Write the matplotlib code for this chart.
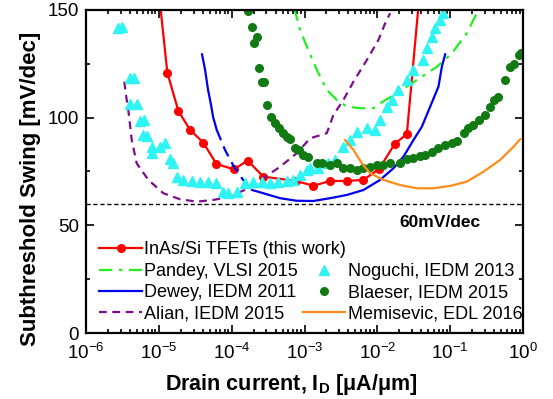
import matplotlib
matplotlib.use('Agg')
import matplotlib.pyplot as plt
import numpy as np

plt.rcParams['font.family'] = ['Liberation Sans', 'DejaVu Sans']
plt.rcParams['mathtext.fontset'] = 'custom'
plt.rcParams['mathtext.rm'] = 'Liberation Sans'
plt.rcParams['mathtext.it'] = 'Liberation Sans:italic'
plt.rcParams['mathtext.bf'] = 'Liberation Sans:bold'

# Data: log10 of drain current [uA/um] and swing [mV/dec]
# InAs/Si TFETs (this work)
inas_logI = [-4.99, -4.883, -4.732, -4.571, -4.389, -4.21, -3.967, -3.782,
             -3.565, -3.12, -2.878, -2.648, -2.419, -2.191, -1.975, -1.762,
             -1.595, -1.435]
inas_ss = [155, 120.9, 103.1, 94.3, 88.4, 78.5, 76.0, 80.1,
           72.6, 70.6, 68.4, 70.6, 70.6, 71.1, 76.2, 87.8,
           92.4, 152]

# Pandey, VLSI 2015
pandey_logI = [-3.143, -3.060, -2.968, -2.831, -2.694, -2.556, -2.419, -2.236,
               -2.053, -1.962, -1.732, -1.457, -1.179, -0.977, -0.771, -0.615,
               -0.588]
pandey_ss = [151, 140.7, 133.0, 122.2, 112.9, 108.2, 105.1, 104.4,
             104.4, 106.7, 111.3, 117.5, 123.7, 129.9, 139.2, 150.0,
             152.8]

# Noguchi, IEDM 2013
noguchi_logI = [-5.556, -5.510, -5.396, -5.341, -5.396, -5.304, -5.258, -5.203,
                -5.213, -5.158, -5.098, -5.098, -4.984, -4.915, -4.846, -4.801,
                -4.754, -4.663, -4.548, -4.434, -4.320, -4.218, -4.122, -4.045,
                -3.930, -3.816, -3.702, -3.587, -3.473, -3.359, -3.243, -3.152,
                -3.060, -2.968, -2.923, -2.809, -2.672, -2.580, -2.466, -2.374,
                -2.282, -2.144, -2.030, -1.962, -1.870, -1.801, -1.710, -1.595,
                -1.504, -1.367, -1.320, -1.251, -1.206, -1.137, -1.092]
noguchi_ss = [141.8, 142.1, 118.6, 118.6, 106.4, 106.4, 98.6, 98.9,
              92.0, 91.5, 86.5, 83.7, 86.5, 88.4, 80.7, 78.8,
              72.6, 71.1, 70.6, 70.3, 70.3, 69.5, 65.6, 65.2,
              65.6, 69.8, 70.0, 70.1, 69.8, 70.3, 70.6, 71.1,
              73.4, 75.7, 76.5, 76.5, 78.8, 80.4, 86.5, 89.6,
              93.5, 95.1, 94.3, 98.9, 105.1, 108.2, 112.9, 117.5,
              122.2, 126.8, 132.2, 137.6, 141.5, 145.4, 148.5]

# Dewey, IEDM 2011 (solid / dashed / solid pieces)
dewey1_logI = [-4.407, -4.365, -4.324, -4.283, -4.255, -4.205]
dewey1_ss = [129.4, 122.2, 112.9, 105.9, 100.3, 94.3]
dewey2_logI = [-4.205, -4.091, -3.981, -3.843, -3.720]
dewey2_ss = [94.3, 85.0, 78.0, 71.1, 66.4]
dewey3_logI = [-3.720, -3.565, -3.335, -3.106, -2.878, -2.648, -2.419, -2.191,
               -1.962, -1.779, -1.641, -1.504, -1.389, -1.275, -1.161, -1.114,
               -1.069]
dewey3_ss = [66.4, 64.9, 62.6, 61.4, 61.3, 62.6, 64.1, 66.4,
             71.1, 76.5, 81.9, 89.6, 95.8, 105.1, 114.4, 123.7,
             129.4]

# Blaeser, IEDM 2015
blaeser_logI = [-3.771, -3.724, -3.655, -3.692, -3.619, -3.586, -3.551, -3.514,
                -3.459, -3.404, -3.349, -3.290, -3.243, -3.198, -3.129, -3.074,
                -3.015, -2.946, -2.831, -2.758, -2.648, -2.556, -2.466, -2.374,
                -2.282, -2.191, -2.099, -2.007, -1.916, -1.824, -1.687, -1.595,
                -1.504, -1.412, -1.343, -1.251, -1.161, -1.069, -0.977, -0.908,
                -0.817, -0.749, -0.680, -0.611, -0.519, -0.451, -0.396, -0.337,
                -0.245, -0.176, -0.130, -0.062, -0.025]
blaeser_ss = [149.5, 142.0, 137.3, 134.6, 123.2, 116.7, 116.7, 105.9,
              100.5, 97.4, 95.1, 92.8, 91.2, 90.1, 85.8, 85.0,
              82.7, 81.9, 78.8, 78.8, 78.0, 78.8, 76.5, 76.5,
              75.7, 76.6, 77.2, 78.0, 78.0, 78.8, 78.8, 80.6,
              81.1, 82.4, 82.7, 84.2, 85.8, 87.3, 88.1, 89.2,
              92.8, 95.1, 96.6, 98.9, 101.3, 105.1, 108.2, 109.8,
              117.5, 123.7, 124.9, 129.1, 130.1]

# Alian, IEDM 2015
alian_logI = [-5.474, -5.451, -5.419, -5.372, -5.304, -5.144, -4.938, -4.709,
              -4.479, -4.251, -4.022, -3.793, -3.565, -3.335, -3.106, -2.923,
              -2.694, -2.603, -2.466, -2.328, -2.144, -1.985, -1.893, -1.824]
alian_ss = [116.7, 110.5, 103.6, 89.6, 78.8, 71.1, 64.9, 62.1,
            61.0, 61.8, 63.3, 66.9, 71.9, 77.2, 83.5, 90.4,
            92.8, 101.3, 108.2, 116.7, 126.8, 136.1, 143.8, 148.5]

# Memisevic, EDL 2016
memi_logI = [-2.442, -2.328, -2.213, -2.099, -1.916, -1.687, -1.457, -1.229,
             -1.0, -0.771, -0.543, -0.313, -0.130, -0.038]
memi_ss = [89.6, 85.0, 78.8, 74.2, 71.1, 68.7, 67.2, 67.2,
           68.3, 70.3, 74.9, 80.4, 86.5, 90.0]


def I(logs):
    return 10.0 ** np.asarray(logs)


fig = plt.figure(figsize=(5.53, 3.99), dpi=100)
ax = fig.add_axes([0.1555, 0.1654, 0.7903, 0.8096])

red, = ax.plot(I(inas_logI), inas_ss, color='#ff0000', lw=1.6, marker='o',
               ms=5.5, markevery=list(range(1, len(inas_logI) - 1)),
               label='InAs/Si TFETs (this work)')
pandey, = ax.plot(I(pandey_logI), pandey_ss, color='#22ee22', lw=1.6,
                  dashes=[6, 3, 1.5, 3], label='Pandey, VLSI 2015')
dewey, = ax.plot(I(dewey1_logI), dewey1_ss, color='#0000ee', lw=1.6,
                 label='Dewey, IEDM 2011')
ax.plot(I(dewey2_logI), dewey2_ss, color='#0000ee', lw=1.6, dashes=[5, 3])
ax.plot(I(dewey3_logI), dewey3_ss, color='#0000ee', lw=1.6)
alian, = ax.plot(I(alian_logI), alian_ss, color='#7d0e8a', lw=1.6,
                 dashes=[3.5, 2.5], label='Alian, IEDM 2015')
noguchi, = ax.plot(I(noguchi_logI), noguchi_ss, ls='none', marker='^',
                   ms=6.5, color='#30f4f4', label='Noguchi, IEDM 2013')
blaeser, = ax.plot(I(blaeser_logI), blaeser_ss, ls='none', marker='o',
                   ms=5.5, color='#127a12', label='Blaeser, IEDM 2015')
memi, = ax.plot(I(memi_logI), memi_ss, color='#ff8c1a', lw=1.6,
                label='Memisevic, EDL 2016')

# 60 mV/dec limit
ax.axhline(60, color='black', lw=1.0, dashes=[3, 2])
ax.text(0.073, 51.5, '60mV/dec', fontsize=12.5, fontweight='bold',
        ha='center', va='center')

ax.set_xscale('log')
ax.set_xlim(1e-6, 1)
ax.set_ylim(0, 150)
ax.set_yticks([0, 50, 100, 150])
ax.set_yticks([25, 75, 125], minor=True)
ax.tick_params(which='both', direction='in', top=True, right=True,
               labelsize=13.5, width=1.2)
ax.tick_params(which='major', length=6)
ax.tick_params(which='minor', length=3)
ax.tick_params(axis='x', pad=7)
ax.tick_params(axis='y', pad=5)
for s in ax.spines.values():
    s.set_linewidth(1.6)

ax.set_xlabel(r'Drain current, I$_\mathbf{D}$ [$\mathbf{\mu}$A/$\mathbf{\mu}$m]',
              fontsize=15.5, fontweight='bold')
ax.xaxis.set_label_coords(0.469, -0.121)
ax.set_ylabel('Subthreshold Swing [mV/dec]', fontsize=16, fontweight='bold')
ax.yaxis.set_label_coords(-0.103, 0.446)

# legend: first entry alone, then the others in two columns
leg1 = ax.legend([red], ['InAs/Si TFETs (this work)'], loc='upper left',
                 bbox_to_anchor=(0.014, 0.306), frameon=False, fontsize=13,
                 handlelength=2.35, handletextpad=0.15, borderaxespad=0.0)
ax.add_artist(leg1)
ax.legend([pandey, dewey, alian, noguchi, blaeser, memi],
          ['Pandey, VLSI 2015', 'Dewey, IEDM 2011', 'Alian, IEDM 2015',
           'Noguchi, IEDM 2013', 'Blaeser, IEDM 2015', 'Memisevic, EDL 2016'],
          ncol=2, loc='upper left', bbox_to_anchor=(0.014, 0.238),
          frameon=False, fontsize=13, handlelength=2.35, handletextpad=0.15,
          columnspacing=0.25, labelspacing=0.22, borderaxespad=0.0)

fig.savefig('out.png', dpi=100)
